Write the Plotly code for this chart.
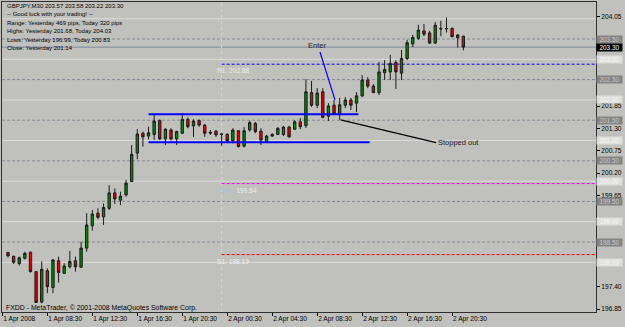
import plotly.graph_objects as go
import pandas as pd

# ---------------- data (GBPJPY M30, 1-2 Apr 2008) ----------------
first_bar = "2008-04-01 05:00"
bar_open = [198.24, 198.15, 197.97, 198.10, 198.25, 197.77, 197.02, 197.79, 197.38, 198.04,
            197.73, 197.89, 198.04, 197.88, 198.35, 198.90, 199.21, 199.12, 199.33, 199.71,
            199.53, 199.66, 199.99, 200.69, 201.18, 201.11, 201.15, 201.49, 201.04, 201.26,
            201.04, 201.18, 201.52, 201.36, 201.49, 201.38, 201.18, 201.23, 201.15, 201.15,
            200.99, 201.24, 200.86, 201.26, 201.42, 201.23, 200.97, 201.11, 201.15, 201.15,
            201.33, 201.28, 201.46, 201.37, 202.18, 201.87, 202.20, 201.60, 201.87, 201.64,
            201.87, 202.00, 201.92, 202.10, 202.49, 202.34, 202.18, 202.67, 202.69, 202.92,
            202.66, 203.02, 203.38, 203.52, 203.70, 203.65, 203.40, 203.76, 203.75, 203.76,
            203.53, 203.57]
bar_high = [198.26, 198.16, 198.14, 198.26, 198.26, 197.78, 198.02, 197.85, 198.07, 198.14,
            197.98, 198.28, 198.14, 198.51, 199.21, 199.29, 199.33, 199.45, 199.90, 199.82,
            199.74, 200.03, 200.89, 201.28, 201.22, 201.34, 201.63, 201.52, 201.30, 201.30,
            201.24, 201.68, 201.57, 201.52, 201.52, 201.41, 201.26, 201.26, 201.18, 201.18,
            201.30, 201.26, 201.33, 201.49, 201.46, 201.30, 201.14, 201.18, 201.33, 201.36,
            201.36, 201.50, 201.55, 202.51, 202.47, 202.29, 202.29, 201.92, 202.00, 202.05,
            202.07, 202.05, 202.19, 202.61, 202.56, 202.39, 202.93, 202.98, 203.11, 202.98,
            203.23, 203.48, 203.60, 203.85, 203.87, 203.70, 203.92, 203.95, 204.03, 203.79,
            203.62, 203.58]
bar_low = [198.12, 197.96, 197.92, 198.07, 197.75, 197.00, 196.99, 197.24, 197.24, 197.50,
           197.71, 197.85, 197.77, 197.87, 198.26, 198.78, 199.06, 198.92, 199.29, 199.44,
           199.41, 199.62, 199.98, 200.54, 200.85, 201.03, 201.01, 201.01, 200.89, 201.00,
           200.89, 201.16, 201.30, 201.09, 201.34, 201.09, 201.14, 201.09, 200.87, 200.95,
           200.93, 200.83, 200.83, 201.22, 201.18, 200.89, 200.95, 201.09, 201.14, 201.11,
           201.07, 201.26, 201.28, 201.31, 201.83, 201.80, 201.55, 201.48, 201.63, 201.51,
           201.80, 201.75, 201.70, 202.07, 202.29, 202.17, 202.12, 202.49, 202.49, 202.27,
           202.49, 202.98, 203.30, 203.48, 203.57, 203.38, 203.38, 203.57, 203.66, 203.54,
           203.29, 203.22]
bar_close = [198.16, 198.00, 198.11, 198.22, 197.77, 197.01, 197.83, 197.40, 198.06, 197.75,
             197.91, 198.02, 197.89, 198.35, 198.92, 199.19, 199.11, 199.35, 199.71, 199.56,
             199.63, 199.95, 200.66, 201.16, 201.09, 201.19, 201.48, 201.04, 201.28, 201.04,
             201.22, 201.52, 201.34, 201.48, 201.38, 201.18, 201.20, 201.14, 201.16, 200.99,
             201.26, 200.85, 201.24, 201.44, 201.22, 201.01, 201.11, 201.15, 201.30, 201.33,
             201.09, 201.46, 201.34, 202.20, 201.87, 202.17, 201.57, 201.85, 201.65, 201.88,
             202.00, 201.87, 202.10, 202.49, 202.34, 202.18, 202.69, 202.75, 202.90, 202.69,
             203.02, 203.41, 203.54, 203.72, 203.62, 203.40, 203.84, 203.75, 203.76, 203.56,
             203.60, 203.30]

x_tick_times = ["2008-04-01 04:30", "2008-04-01 08:30", "2008-04-01 12:30", "2008-04-01 16:30",
                "2008-04-01 20:30", "2008-04-02 00:30", "2008-04-02 04:30", "2008-04-02 08:30",
                "2008-04-02 12:30", "2008-04-02 16:30", "2008-04-02 20:30"]
x_tick_text = ["1 Apr 2008", "1 Apr 08:30", "1 Apr 12:30", "1 Apr 16:30", "1 Apr 20:30",
               "2 Apr 00:30", "2 Apr 04:30", "2 Apr 08:30", "2 Apr 12:30", "2 Apr 16:30",
               "2 Apr 20:30"]
# price-scale labels left visible (the others sit under the level boxes)
y_tick_text = ["204.05", "201.85", "201.30", "200.75", "200.20",
               "199.65", "197.40", "196.85"]

x_range = ["2008-04-01 04:28", "2008-04-03 09:18"]
y_range = [196.776, 204.412]

whole_levels = [204.00, 203.00, 202.00, 201.00, 200.00, 199.00, 198.00]
whole_level_boxes = [203.00, 202.00, 201.00, 200.00, 199.00, 198.00]
half_levels = [203.50, 202.50, 201.50, 200.50, 199.50, 198.50]
bid_price = 203.30
day_start = "2008-04-02 00:00"
pivot_names = ["R1:", "Today", "S1:"]
pivot_values = [202.88, 199.94, 198.19]
pivot_colors = ["#0000FF", "#FF00FF", "#FF0000"]

box_starts = ["2008-04-01 17:30", "2008-04-01 17:30"]
box_ends = ["2008-04-02 12:10", "2008-04-02 13:10"]
box_prices = [201.65, 200.96]

enter_x = ["2008-04-02 08:45", "2008-04-02 10:05"]
enter_y = [203.18, 202.00]
enter_label_pos = ("2008-04-02 08:28", 203.35)
stop_x = ["2008-04-02 10:35", "2008-04-02 19:05"]
stop_y = [201.51, 200.95]
stop_label_pos = ("2008-04-02 19:05", 200.96)

header_lines = ["GBPJPY,M30 203.57 203.58 203.22 203.30",
                "-- Good luck with your trading! --",
                "Range: Yesterday 469 pips, Today 320 pips",
                "Highs: Yesterday 201.68, Today 204.03",
                "Lows: Yesterday 196.99, Today 200.83",
                "Close: Yesterday 201.14"]
footer_text = "FXDD - MetaTrader, \u00a9 2001-2008 MetaQuotes Software Corp."

# ---------------- figure ----------------
W, H = 625, 327
ML, MR, MT, MB = 2, 29, 2, 15
BG = "#C0C0BC"
FONT = "Liberation Sans"

times = pd.date_range(first_bar, periods=len(bar_open), freq="30min")

fig = go.Figure()

shapes = []
for lv in whole_levels:
    shapes.append(dict(type="line", xref="paper", x0=0, x1=1, yref="y", y0=lv, y1=lv,
                       line=dict(color="#DCDCDA", width=1), layer="below"))
for lv in half_levels:
    shapes.append(dict(type="line", xref="paper", x0=0, x1=1, yref="y", y0=lv, y1=lv,
                       line=dict(color="#8A8A98", width=1, dash="3px,2px"), layer="below"))
shapes.append(dict(type="line", xref="paper", x0=0, x1=1, yref="y", y0=bid_price, y1=bid_price,
                   line=dict(color="#8088A0", width=1), layer="below"))
shapes.append(dict(type="line", xref="x", x0=day_start, x1=day_start, yref="paper", y0=0, y1=1,
                   line=dict(color="#D6D6D6", width=1, dash="dot"), layer="below"))
for v, c in zip(pivot_values, pivot_colors):
    shapes.append(dict(type="line", xref="x", x0=day_start, x1=x_range[1], yref="y", y0=v, y1=v,
                       line=dict(color=c, width=1, dash="3px,2px"), layer="below"))
for s, e, p in zip(box_starts, box_ends, box_prices):
    shapes.append(dict(type="line", xref="x", x0=s, x1=e, yref="y", y0=p, y1=p,
                       line=dict(color="#0000FF", width=2), layer="above"))
shapes.append(dict(type="line", xref="x", x0=enter_x[0], x1=enter_x[1], yref="y",
                   y0=enter_y[0], y1=enter_y[1], line=dict(color="#0000FF", width=1.2)))
shapes.append(dict(type="line", xref="x", x0=stop_x[0], x1=stop_x[1], yref="y",
                   y0=stop_y[0], y1=stop_y[1], line=dict(color="#000000", width=1.2)))

fig.add_trace(go.Candlestick(
    x=times, open=bar_open, high=bar_high, low=bar_low, close=bar_close,
    increasing=dict(line=dict(color="#1A1A1A", width=1), fillcolor="#008A00"),
    decreasing=dict(line=dict(color="#1A1A1A", width=1), fillcolor="#F00000"),
    whiskerwidth=0, showlegend=False, hoverinfo="skip"))

annotations = []
plot_w = W - ML - MR
plot_h = H - MT - MB


def px_x(px):
    return (px - ML) / plot_w


def px_y(py):
    return 1 - (py - MT) / plot_h


for i, t in enumerate(header_lines):
    annotations.append(dict(text=t, xref="paper", yref="paper", x=px_x(5), y=px_y(6 + 8.4 * i),
                            xanchor="left", yanchor="middle", showarrow=False,
                            font=dict(family=FONT, size=6.0, color="#000000")))
annotations.append(dict(text=footer_text, xref="paper", yref="paper", x=px_x(4), y=px_y(308),
                        xanchor="left", yanchor="middle", showarrow=False,
                        font=dict(family=FONT, size=6.9, color="#000000")))

for n, v in zip(pivot_names, pivot_values):
    if n == "Today":
        txt = "<span style='color:#A8C4D4'>Today</span> %.2f" % v
    else:
        txt = "%s %.2f" % (n, v)
    annotations.append(dict(text=txt, xref="x", yref="y", x=day_start, y=v, xanchor="left",
                            yanchor="top", xshift=-7, yshift=-1, showarrow=False,
                            font=dict(family=FONT, size=6.6, color="#EEEEEE")))

for lv in whole_level_boxes:
    annotations.append(dict(text="%.2f" % lv, xref="paper", yref="y", x=1, y=lv, xanchor="left",
                            yanchor="middle", showarrow=False, bgcolor="#DEDEDC",
                            width=24, height=6, borderpad=0.5,
                            font=dict(family=FONT, size=6.4, color="#F6F6F6")))
for lv in half_levels:
    annotations.append(dict(text="%.2f" % lv, xref="paper", yref="y", x=1, y=lv, xanchor="left",
                            yanchor="middle", showarrow=False, bgcolor="#848484",
                            width=24, height=6, borderpad=0.5,
                            font=dict(family=FONT, size=6.4, color="#C8C8C8")))
annotations.append(dict(text="%.2f" % bid_price, xref="paper", yref="y", x=1, y=bid_price,
                        xanchor="left", yanchor="middle", showarrow=False, bgcolor="#000000",
                        width=24, height=6, borderpad=0.5,
                        font=dict(family=FONT, size=6.4, color="#FFFFFF")))

annotations.append(dict(text="Enter", xref="x", yref="y", x=enter_label_pos[0],
                        y=enter_label_pos[1], xanchor="center", yanchor="middle",
                        showarrow=False, font=dict(family=FONT, size=7.5, color="#202020")))
annotations.append(dict(text="Stopped out", xref="x", yref="y", x=stop_label_pos[0],
                        y=stop_label_pos[1], xanchor="left", yanchor="middle",
                        showarrow=False, font=dict(family=FONT, size=7.5, color="#202020")))

fig.update_layout(
    width=W, height=H,
    margin=dict(l=ML, r=MR, t=MT, b=MB),
    paper_bgcolor=BG, plot_bgcolor=BG,
    boxgap=0.4,
    shapes=shapes, annotations=annotations,
    xaxis=dict(type="date", range=x_range, rangeslider=dict(visible=False),
               showgrid=False, zeroline=False,
               tickvals=x_tick_times, ticktext=x_tick_text,
               ticks="outside", ticklen=3, tickcolor="#000000",
               ticklabelposition="outside right",
               showline=True, linecolor="#303030", linewidth=1, mirror=True,
               tickfont=dict(family=FONT, size=6.6, color="#000000")),
    yaxis=dict(range=y_range, side="right", showgrid=False, zeroline=False,
               tickvals=[float(t) for t in y_tick_text], ticktext=y_tick_text,
               ticks="outside", ticklen=3, tickcolor="#000000",
               showline=True, linecolor="#303030", linewidth=1, mirror=True,
               tickfont=dict(family=FONT, size=6.6, color="#000000")),
)

fig.write_html("out.html")
